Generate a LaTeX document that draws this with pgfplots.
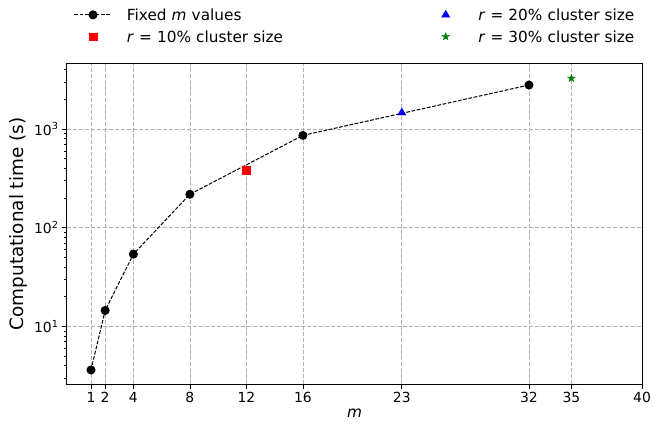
\documentclass[border=0pt]{standalone}
\usepackage{fontspec}
\setmainfont{DejaVu Sans}
\usepackage{pgfplots}
\pgfplotsset{compat=1.18}
\pgfdeclareplotmark{fstar}{%
\pgfpathmoveto{\pgfpointpolar{90}{\pgfplotmarksize}}%
\pgfpathlineto{\pgfpointpolar{126}{0.4\pgfplotmarksize}}%
\pgfpathlineto{\pgfpointpolar{162}{\pgfplotmarksize}}%
\pgfpathlineto{\pgfpointpolar{198}{0.4\pgfplotmarksize}}%
\pgfpathlineto{\pgfpointpolar{234}{\pgfplotmarksize}}%
\pgfpathlineto{\pgfpointpolar{270}{0.4\pgfplotmarksize}}%
\pgfpathlineto{\pgfpointpolar{306}{\pgfplotmarksize}}%
\pgfpathlineto{\pgfpointpolar{342}{0.4\pgfplotmarksize}}%
\pgfpathlineto{\pgfpointpolar{18}{\pgfplotmarksize}}%
\pgfpathlineto{\pgfpointpolar{54}{0.4\pgfplotmarksize}}%
\pgfpathclose\pgfusepathqfillstroke}
\definecolor{gridgray}{HTML}{B0B0B0}
\definecolor{mplgreen}{HTML}{008000}
\newcommand{\lgfont}{\fontsize{15.3}{18.4}\selectfont}
\begin{document}
\begin{tikzpicture}
\begin{axis}[
  scale only axis, width=575pt, height=320pt,
  xmin=-0.7, xmax=40,
  ymode=log, ymin=2.61, ymax=4550,
  xtick={1,2,4,8,12,16,23,32,35,40},
  xticklabels={1,2,4,8,12,16,23,32,35,40},
  ytick={10,100,1000},
  yticklabels={10\textsuperscript{1},10\textsuperscript{2},10\textsuperscript{3}},
  minor ytick={3,4,5,6,7,8,9,20,30,40,50,60,70,80,90,200,300,400,500,600,700,800,900,2000,3000,4000},
  tick align=outside, tick pos=left,
  major tick length=5pt, minor tick length=3pt,
  every tick/.style={black, line width=0.8pt},
  minor tick style={line width=0.6pt},
  xmajorgrids, ymajorgrids,
  major grid style={dash pattern=on 4pt off 2pt, color=gridgray, line width=0.8pt},
  axis line style={line width=1pt},
  tick label style={font=\fontsize{13.9}{16}\selectfont},
  xlabel={\textit{m}}, ylabel={Computational time (s)},
  every axis y label/.style={at={(axis description cs:-0.0685,0.5)}, rotate=90, anchor=south, inner sep=0pt, font=\fontsize{18.4}{22}\selectfont},
  every axis x label/.style={at={(axis description cs:0.5,0)}, anchor=base, yshift=-33.9pt, inner sep=0pt, font=\lgfont},
  legend columns=2,
  legend image code/.code={\draw[mark repeat=2,mark phase=2,#1] plot coordinates {(-18.5pt,0pt) (0pt,0pt) (18.5pt,0pt)}; \path (-18.5pt,0pt) (18.5pt,0pt);},
  legend style={at={(0.01217,1.176)}, anchor=north west, draw=none, fill=none,
    inner sep=0pt, outer sep=0pt, column sep=0pt, row sep=7.3pt,
    nodes={inner sep=0pt, outer sep=0pt},
    font=\lgfont,
    /tikz/column 2/.append style={text width=315pt, align=left},
    /tikz/column 4/.append style={text width=200pt, align=left}},
]
\addplot[black, line width=1pt, dash pattern=on 3.7pt off 1.6pt, mark=*, mark size=4pt, mark options={solid}]
  coordinates {(1,3.62) (2,14.5) (4,54) (8,218) (16,861) (32,2786)};
\addlegendentry{\strut\hspace{15pt}Fixed \textit{m} values}
\addplot[only marks, blue, mark=triangle*, mark size=4.7pt]
  coordinates {(23,1462)};
\addlegendentry{\strut\hspace{14pt}\textit{r} = 20\% cluster size}
\addplot[only marks, red, mark=square*, mark size=3.8pt]
  coordinates {(12,384)};
\addlegendentry{\strut\hspace{15pt}\textit{r} = 10\% cluster size}
\addplot[only marks, mplgreen, mark=fstar, mark size=4pt]
  coordinates {(35,3259)};
\addlegendentry{\strut\hspace{14pt}\textit{r} = 30\% cluster size}
\end{axis}
\pgfresetboundingbox
\path (current axis.south west) ++(-67pt,-43pt) coordinate (bbA);
\path (current axis.north east) ++(12pt,64pt) coordinate (bbB);
\useasboundingbox (bbA) rectangle (bbB);
\end{tikzpicture}
\end{document}
